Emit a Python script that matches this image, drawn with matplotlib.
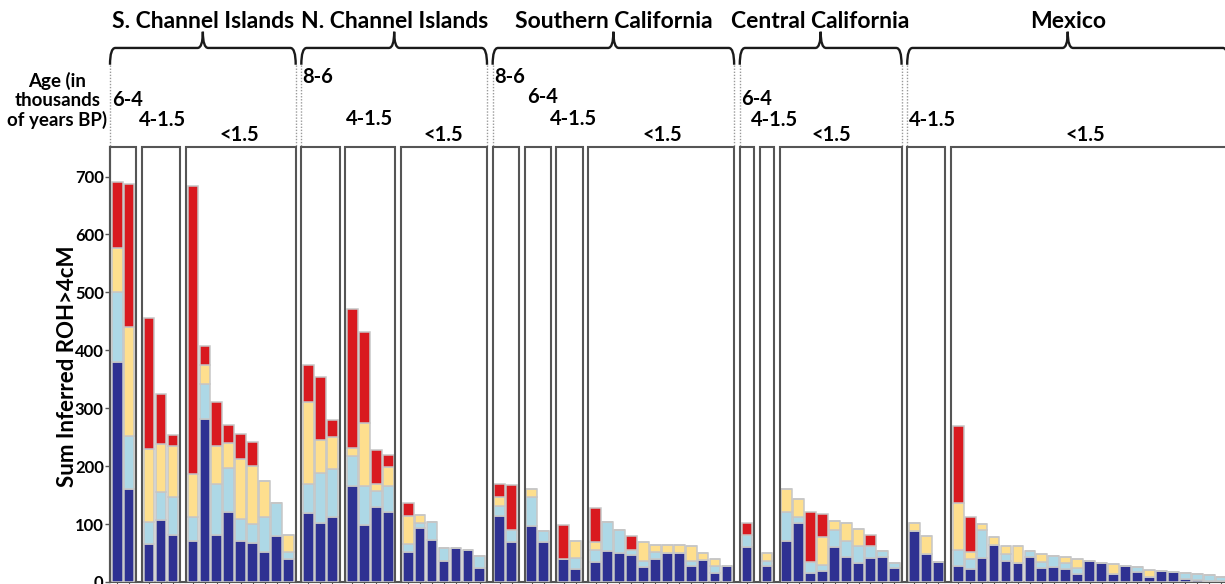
import matplotlib
matplotlib.use("Agg")
import matplotlib.pyplot as plt
from matplotlib.path import Path
from matplotlib.patches import PathPatch
import numpy as np

plt.rcParams['font.family'] = ['Lato', 'DejaVu Sans']

# Regions, age bins inside each region and number of individuals per bin
regions = ["S. Channel Islands", "N. Channel Islands", "Southern California",
           "Central California", "Mexico"]
age_bins = [["6-4", "4-1.5", "<1.5"],
            ["8-6", "4-1.5", "<1.5"],
            ["8-6", "6-4", "4-1.5", "<1.5"],
            ["6-4", "4-1.5", "<1.5"],
            ["4-1.5", "<1.5"]]
bin_sizes = [[2, 3, 9],
             [3, 4, 7],
             [2, 2, 2, 12],
             [1, 1, 10],
             [3, 23]]

# Summed ROH (cM) per individual, split by ROH length class
roh_4_8 = [380, 160, 66, 107, 82, 71, 281, 81, 121, 71, 67, 52, 80, 39,
           119, 101, 112, 165, 98, 129, 120, 52, 93, 73, 36, 58, 56, 25,
           114, 69, 97, 69, 40, 22, 34, 53, 50, 47, 26, 40, 50, 50, 28, 38, 16, 28,
           60, 28, 71, 101, 15, 19, 61, 43, 33, 42, 43, 24,
           88, 48, 35, 28, 22, 41, 64, 37, 32, 43, 25, 26, 22, 14, 37, 33, 13, 28,
           18, 9, 19, 17, 6, 3, 1, 1]
roh_8_12 = [120, 92, 37, 48, 64, 42, 60, 89, 75, 37, 33, 61, 57, 12,
            50, 87, 83, 53, 67, 28, 46, 13, 9, 31, 23, 0, 0, 20,
            17, 21, 49, 19, 0, 20, 21, 50, 39, 9, 11, 11, 0, 0, 8, 0, 12, 0,
            22, 9, 49, 12, 20, 10, 29, 27, 30, 20, 11, 9,
            0, 0, 0, 28, 18, 48, 0, 11, 0, 11, 10, 19, 11, 11, 0, 0, 0, 0,
            8, 0, 0, 0, 9, 10, 11, 8]
roh_12_20 = [77, 188, 127, 83, 89, 73, 33, 65, 44, 104, 101, 61, 0, 31,
             142, 58, 56, 13, 109, 13, 33, 49, 13, 0, 0, 0, 0, 0,
             15, 0, 14, 0, 0, 28, 14, 0, 0, 0, 32, 13, 14, 14, 27, 12, 12, 0,
             0, 13, 41, 31, 0, 48, 15, 31, 28, 0, 0, 0,
             13, 31, 0, 80, 12, 11, 14, 14, 30, 0, 13, 0, 10, 15, 0, 0, 18, 0,
             0, 12, 0, 0, 0, 0, 0, 0]
roh_over_20 = [114, 247, 225, 86, 19, 498, 34, 76, 31, 44, 41, 0, 0, 0,
               64, 108, 29, 240, 158, 58, 20, 22, 0, 0, 0, 0, 0, 0,
               24, 78, 0, 0, 58, 0, 59, 0, 0, 24, 0, 0, 0, 0, 0, 0, 0, 0,
               20, 0, 0, 0, 85, 41, 0, 0, 0, 20, 0, 0,
               0, 0, 0, 133, 61, 0, 0, 0, 0, 0, 0, 0, 0, 0, 0, 0, 0, 0,
               0, 0, 0, 0, 0, 0, 0, 0]

y_ticks = [0, 100, 200, 300, 400, 500, 600, 700]

# Label placement for each age bin: offset from box left (bar units) and height
label_dx = [[0.17, -0.25, 2.8],
            [0.1, 0.1, 1.9],
            [0.1, 0.22, -0.53, 4.5],
            [0.14, -0.7, 2.7],
            [0.17, 9.56]]
label_y = [[832, 798, 772],
           [872, 800, 772],
           [872, 838, 800, 772],
           [834, 798, 772],
           [798, 772]]

colors = ["#2E3192", "#ADD8E6", "#FEDF8E", "#D9191F"]
box_color = "#555555"

# ---- layout of bars and boxes ----
pad, gap = 0.1, 0.47
x = 0.0
centers = []
boxes = []
for r, sizes in enumerate(bin_sizes):
    for b, n in enumerate(sizes):
        left = x
        centers += [left + pad + 0.5 + i for i in range(n)]
        right = left + 2 * pad + n
        boxes.append((r, b, left, right))
        x = right + gap
centers = np.array(centers)

fig = plt.figure(figsize=(12.25, 5.84), dpi=100)
ax = fig.add_axes([110 / 1225, 2 / 584, 1115 / 1225, 435 / 584])
y_top = 751
ax.set_xlim(0, 1115 / 11.95)
ax.set_ylim(0, y_top)

# stacked bars
bottom = np.zeros(len(centers))
for vals, col in zip([roh_4_8, roh_8_12, roh_12_20, roh_over_20], colors):
    vals = np.array(vals, dtype=float)
    ax.bar(centers, vals, bottom=bottom, width=0.9, color=col,
           edgecolor="#c6c6c6", linewidth=1.1, zorder=3)
    bottom += vals

# open boxes around each age bin
for r, b, left, right in boxes:
    ax.plot([left, left, right, right], [0, y_top, y_top, 0], color=box_color,
            lw=1.5, clip_on=False, zorder=4, solid_joinstyle="miter")
    ax.text(left + label_dx[r][b], label_y[r][b], age_bins[r][b],
            ha="left", va="center", fontsize=14.5, fontweight="bold",
            clip_on=False)

# braces with region names
y_end, y_line, y_peak = 893, 922, 950
c = 0.45
for r, name in enumerate(regions):
    rb = [bx for bx in boxes if bx[0] == r]
    l, rr = rb[0][2], rb[-1][3]
    mid = (l + rr) / 2
    verts = [(l, y_end), (l, y_line), (l + c, y_line),
             (mid - c, y_line), (mid, y_line), (mid, y_peak),
             (mid, y_line), (mid + c, y_line),
             (rr - c, y_line), (rr, y_line), (rr, y_end)]
    codes = [Path.MOVETO, Path.CURVE3, Path.CURVE3,
             Path.LINETO, Path.CURVE3, Path.CURVE3,
             Path.CURVE3, Path.CURVE3,
             Path.LINETO, Path.CURVE3, Path.CURVE3]
    ax.add_patch(PathPatch(Path(verts, codes), fill=False, lw=1.7,
                           edgecolor="#1a1a1a", clip_on=False, zorder=5))
    for xe in (l, rr):
        ax.plot([xe, xe], [y_end, y_top], color="#9a9a9a", lw=1.0,
                ls=(0, (1, 1.2)), clip_on=False, zorder=2)
    ax.text(mid, 968, name, ha="center", va="center", fontsize=16.5,
            fontweight="bold", clip_on=False)

ax.text(-4.4, 831, "Age (in\nthousands\nof years BP)", ha="center",
        va="center", multialignment="center", fontsize=13.5, fontweight="bold",
        linespacing=1.15, clip_on=False)

# axes styling
for s in ("top", "right"):
    ax.spines[s].set_visible(False)
for s in ("left", "bottom"):
    ax.spines[s].set_color(box_color)
    ax.spines[s].set_linewidth(1.5)
ax.set_yticks(y_ticks)
ax.set_yticklabels([str(v) for v in y_ticks], fontsize=12, fontweight="bold")
ax.set_xticks(centers)
ax.set_xticklabels([])
ax.tick_params(axis="y", length=3.5, width=1, color=box_color, pad=1)
ax.tick_params(axis="x", length=3, width=0.8, color=box_color)
ax.set_ylabel("Sum Inferred ROH>4cM", fontsize=16, fontweight="bold")
ax.yaxis.set_label_coords(-0.029, 0.497)

fig.savefig("out.png", dpi=100)
